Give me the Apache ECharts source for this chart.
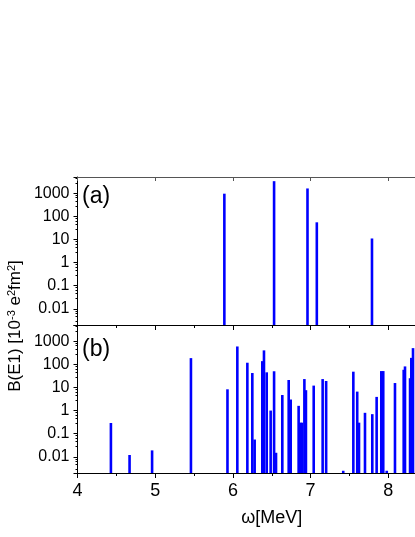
<!DOCTYPE html>
<html>
<head>
    <meta charset="utf-8">
    <title>B(E1) strength</title>
    <script src="https://cdn.jsdelivr.net/npm/echarts@6/dist/echarts.min.js"></script>
    <style>
        body { margin: 0; background: #fff; }
    </style>
</head>
<body>
    <div id="main" style="width: 415px;height:537px;"></div>
    <script type="text/javascript">
        var myChart = echarts.init(document.getElementById('main'));

        // panel (a): energies [MeV] and B(E1) [10^-3 e^2fm^2]
        var omega_a = [5.89, 6.53, 6.96, 7.08, 7.79];
        var bE1_a = [950, 3300, 1600, 55, 11];

        // panel (b)
        var omega_b = [4.43, 4.67, 4.96, 5.46, 5.93, 6.057, 6.186, 6.25, 6.28, 6.378,
                       6.40, 6.435, 6.486, 6.53, 6.555, 6.636, 6.718, 6.744, 6.846, 6.868,
                       6.889, 6.92, 6.94, 7.04, 7.155, 7.20, 7.42, 7.55, 7.60, 7.623,
                       7.70, 7.794, 7.85, 7.91, 7.935, 7.98, 8.086, 8.198, 8.215, 8.28,
                       8.296, 8.318];
        var bE1_b = [0.29, 0.012, 0.019, 185, 8.3, 590, 117, 42, 0.056, 137,
                     400, 45, 1.0, 50, 0.015, 4.7, 21, 3.0, 1.6, 0.3,
                     0.3, 23, 7.6, 12, 23, 19, 0.0025, 48, 6.6, 0.3,
                     0.8, 0.7, 3.9, 51, 51, 0.0025, 15.5, 58, 81, 25,
                     190, 500];

        var yMin = 0.002, yMax = 5000;
        var xMin = 4, xMax = 9;

        function pairs(xs, ys) {
            return xs.map(function (x, i) { return [x, ys[i]]; });
        }

        // bars drawn from the axis floor up to the value
        function renderBar(params, api) {
            var top = api.coord([api.value(0), api.value(1)]);
            var base = api.coord([api.value(0), yMin]);
            var w = 2.6;
            return {
                type: 'rect',
                shape: { x: top[0] - w / 2, y: top[1], width: w, height: base[1] - top[1] },
                style: { fill: '#0000ff' }
            };
        }

        function logLabel(v) {
            var e = Math.round(Math.log10(v));
            if (Math.abs(Math.log10(v) - e) > 1e-6) return '';
            return e < 0 ? Math.pow(10, e).toFixed(-e) : String(Math.pow(10, e));
        }

        var font = 'Liberation Sans, Arial, sans-serif';

        function xAxis(grid, withLabels) {
            return {
                type: 'value', gridIndex: grid, min: xMin, max: xMax, interval: 1,
                axisLine: { lineStyle: { color: '#000', width: 1 } },
                axisTick: { inside: false, length: 5, lineStyle: { color: '#000' } },
                minorTick: { show: true, splitNumber: 2, length: 3, lineStyle: { color: '#000' } },
                splitLine: { show: false },
                axisLabel: { show: withLabels, color: '#000', fontSize: 18, fontFamily: font, margin: 9 },
                name: withLabels ? 'ω[MeV]' : '',
                nameLocation: 'middle', nameGap: 36,
                nameTextStyle: { color: '#000', fontSize: 18, fontFamily: font }
            };
        }

        function yAxis(grid) {
            return {
                type: 'log', logBase: 10, gridIndex: grid, min: yMin, max: yMax,
                axisLine: { show: true, lineStyle: { color: '#000', width: 1 } },
                axisTick: { inside: false, length: 4, lineStyle: { color: '#000' } },
                minorTick: { show: true, splitNumber: 5, length: 2, lineStyle: { color: '#000' } },
                splitLine: { show: false },
                axisLabel: { color: '#000', fontSize: 16, fontFamily: font, margin: 8, formatter: logLabel,
                             showMinLabel: false, showMaxLabel: false }
            };
        }

        var option = {
            animation: false,
            grid: [
                { left: 77.5, top: 177, width: 388.5, height: 148, outerBoundsMode: 'none', containLabel: false },
                { left: 77.5, top: 325, width: 388.5, height: 148, outerBoundsMode: 'none', containLabel: false }
            ],
            xAxis: [
                xAxis(0, false),
                xAxis(1, true),
                {
                    type: 'value', gridIndex: 0, position: 'top', min: xMin, max: xMax, interval: 1,
                    axisLine: { lineStyle: { color: '#555' } },
                    axisTick: { inside: true, length: 4, lineStyle: { color: '#555' } },
                    axisLabel: { show: false }, splitLine: { show: false }
                }
            ],
            yAxis: [yAxis(0), yAxis(1)],
            graphic: [
                { type: 'text', left: 82, top: 185, style: { text: '(a)', fontSize: 23, fontFamily: font, fill: '#000' } },
                { type: 'text', left: 82, top: 338, style: { text: '(b)', fontSize: 23, fontFamily: font, fill: '#000' } },
                {
                    type: 'text', x: 6, y: 326, rotation: Math.PI / 2,
                    style: {
                        text: 'B(E1) [10{sup|-3} e{sup|2}fm{sup|2}]',
                        align: 'center', verticalAlign: 'top',
                        fontSize: 17, fontFamily: font, fill: '#000',
                        rich: {
                            sup: { fontSize: 11, fontFamily: font, fill: '#000', padding: [0, 0, 8, 0] }
                        }
                    }
                }
            ],
            series: [
                { type: 'custom', xAxisIndex: 0, yAxisIndex: 0, renderItem: renderBar,
                  encode: { x: 0, y: 1 }, data: pairs(omega_a, bE1_a) },
                { type: 'custom', xAxisIndex: 1, yAxisIndex: 1, renderItem: renderBar,
                  encode: { x: 0, y: 1 }, data: pairs(omega_b, bE1_b) }
            ]
        };

        myChart.setOption(option);
    </script>
</body>
</html>
